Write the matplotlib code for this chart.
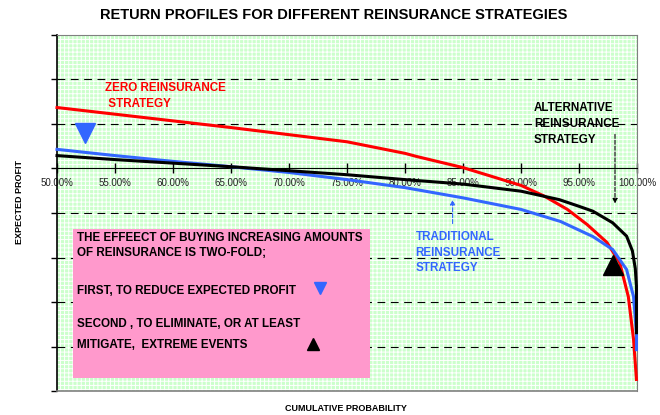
import matplotlib.pyplot as plt
from matplotlib.patches import Rectangle

plt.rcParams['font.family'] = ['Liberation Sans', 'DejaVu Sans']
plt.rcParams['hatch.linewidth'] = 0.7

# cumulative probability vs expected profit
zero_x = [0.50, 0.55, 0.60, 0.65, 0.70, 0.75, 0.80, 0.81, 0.85, 0.90, 0.92, 0.94,
          0.957, 0.974, 0.985, 0.9925, 0.997, 0.9995]
zero_y = [1.37, 1.22, 1.07, 0.92, 0.76, 0.60, 0.34, 0.27, 0.02, -0.38, -0.62, -0.92,
          -1.26, -1.66, -2.11, -2.88, -3.84, -4.74]

trad_x = [0.50, 0.55, 0.60, 0.65, 0.70, 0.75, 0.80, 0.85, 0.90, 0.934, 0.962, 0.979,
          0.991, 0.997, 0.9995, 0.9995]
trad_y = [0.43, 0.29, 0.16, 0.04, -0.09, -0.25, -0.43, -0.66, -0.92, -1.19, -1.53, -1.82,
          -2.27, -2.88, -3.69, -4.07]

alt_x = [0.50, 0.55, 0.60, 0.65, 0.70, 0.75, 0.80, 0.85, 0.90, 0.933, 0.95, 0.962,
         0.979, 0.991, 0.996, 0.9985, 0.9995, 0.9995]
alt_y = [0.29, 0.20, 0.12, 0.04, -0.05, -0.14, -0.25, -0.35, -0.51, -0.70, -0.85, -0.96,
         -1.22, -1.52, -1.85, -2.25, -2.65, -3.69]

x_ticks = [0.50, 0.55, 0.60, 0.65, 0.70, 0.75, 0.80, 0.85, 0.90, 0.95, 1.00]
x_labels = ['50.00%', '55.00%', '60.00%', '65.00%', '70.00%', '75.00%',
            '80.00%', '85.00%', '90.00%', '95.00%', '100.00%']
y_ticks = [-5, -4, -3, -2, -1, 0, 1, 2, 3]
dash_levels = [-4, -3, -2, -1, 1, 2]

RED = '#FF0000'
BLUE = '#3366FF'

fig = plt.figure(figsize=(6.6, 4.15), dpi=100)
ax = fig.add_axes([0.0864, 0.0578, 0.8788, 0.8579])
ax.set_xlim(0.5, 1.0)
ax.set_ylim(-5, 3)

# green background with fine white grid pattern
ax.set_facecolor('#CCFFCC')
ax.add_patch(Rectangle((0, 0), 1, 1, transform=ax.transAxes, facecolor='none',
                       edgecolor='white', hatch='++++', lw=0, zorder=0))

for lv in dash_levels:
    ax.axhline(lv, color='black', lw=0.8, linestyle=(0, (7, 5)), zorder=1)

ax.plot(zero_x, zero_y, color=RED, lw=2.2, zorder=3, clip_on=False)
ax.plot(trad_x, trad_y, color=BLUE, lw=2.2, zorder=3, clip_on=False)
ax.plot(alt_x, alt_y, color='black', lw=2.2, zorder=4, clip_on=False)

# spines / axes
ax.spines['bottom'].set_position(('data', 0))
ax.spines['bottom'].set_color('black')
ax.spines['left'].set_color('black')
ax.spines['left'].set_linewidth(1.2)
ax.spines['top'].set_color('#808080')
ax.spines['right'].set_color('#808080')
ax.axhline(-5, color='#808080', lw=1.2, clip_on=False, zorder=5)

ax.set_xticks(x_ticks)
ax.set_xticklabels(x_labels)
ax.tick_params(axis='x', direction='inout', length=7, width=1, pad=3,
               labelsize=7, labelcolor='#222222')
ax.set_yticks(y_ticks)
ax.set_yticklabels([])
ax.tick_params(axis='y', direction='out', length=4, width=1)

# curve labels and arrows
ax.text(0.5415, 1.63, 'ZERO REINSURANCE\n STRATEGY', color=RED, fontsize=8.4,
        fontweight='bold', ha='left', va='center', linespacing=1.4)
ax.text(0.911, 1.0, 'ALTERNATIVE\nREINSURANCE\nSTRATEGY', color='black', fontsize=8.4,
        fontweight='bold', ha='left', va='center', linespacing=1.4, zorder=6)
ax.text(0.809, -1.89, 'TRADITIONAL\nREINSURANCE\nSTRATEGY', color=BLUE, fontsize=8.4,
        fontweight='bold', ha='left', va='center', linespacing=1.4)
ax.annotate('', xy=(0.981, -0.85), xytext=(0.981, 0.83),
            arrowprops=dict(arrowstyle='-|>', color='black', lw=0.8, linestyle='--',
                            mutation_scale=7))
ax.annotate('', xy=(0.841, -0.64), xytext=(0.841, -1.30),
            arrowprops=dict(arrowstyle='-|>', color=BLUE, lw=0.8, linestyle='--',
                            mutation_scale=7))

ax.plot([0.524], [0.80], marker='v', color=BLUE, markersize=14, zorder=5)
ax.plot([0.979], [-2.16], marker='^', color='black', markersize=14, zorder=5)

# pink explanation box
ax.add_patch(Rectangle((0.028, 0.0365), 0.512, 0.419, transform=ax.transAxes,
                       facecolor='#FF99CC', edgecolor='none', zorder=6))
box_lines = [
    (0.430, 'THE EFFEECT OF BUYING INCREASING AMOUNTS'),
    (0.388, 'OF REINSURANCE IS TWO-FOLD;'),
    (0.281, 'FIRST, TO REDUCE EXPECTED PROFIT'),
    (0.188, 'SECOND , TO ELIMINATE, OR AT LEAST'),
    (0.129, 'MITIGATE,  EXTREME EVENTS'),
]
for yy, s in box_lines:
    ax.text(0.0345, yy, s, transform=ax.transAxes, fontsize=8.4, fontweight='bold',
            ha='left', va='center', color='black', zorder=7)
ax.plot([0.453], [0.289], marker='v', color=BLUE, markersize=9,
        transform=ax.transAxes, zorder=7)
ax.plot([0.441], [0.131], marker='^', color='black', markersize=9,
        transform=ax.transAxes, zorder=7)

fig.text(0.505, 0.963, 'RETURN PROFILES FOR DIFFERENT REINSURANCE STRATEGIES',
         fontsize=10.5, fontweight='bold', ha='center', va='center')
fig.text(0.030, 0.513, 'EXPECTED PROFIT', fontsize=6.5, fontweight='bold',
         rotation=90, ha='center', va='center')
fig.text(0.524, 0.0145, 'CUMULATIVE PROBABILITY', fontsize=6.5, fontweight='bold',
         ha='center', va='center')

plt.savefig('out.png', dpi=100)
